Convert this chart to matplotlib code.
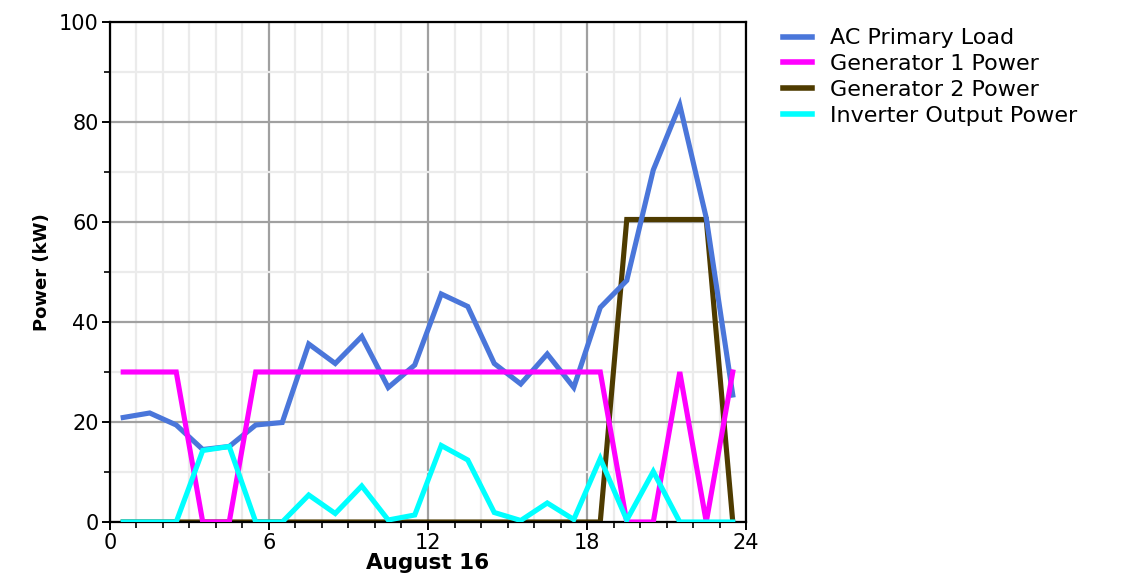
import numpy as np
import matplotlib
matplotlib.use("Agg")
import matplotlib.pyplot as plt
from matplotlib.ticker import MultipleLocator

# hourly values for August 16 (plotted at the middle of each hour)
hours = [0.5, 1.5, 2.5, 3.5, 4.5, 5.5, 6.5, 7.5, 8.5, 9.5, 10.5, 11.5,
         12.5, 13.5, 14.5, 15.5, 16.5, 17.5, 18.5, 19.5, 20.5, 21.5, 22.5, 23.5]
ac_load = [20.9, 21.8, 19.4, 14.5, 15.1, 19.4, 19.9, 35.6, 31.7, 37.1, 26.9, 31.4,
           45.6, 43.1, 31.7, 27.6, 33.6, 26.9, 42.9, 48.3, 70.4, 83.4, 60.8, 25.4]
gen1 = [30, 30, 30, 0, 0, 30, 30, 30, 30, 30, 30, 30,
        30, 30, 30, 30, 30, 30, 30, 0, 0, 30, 0, 30]
gen2 = [0, 0, 0, 0, 0, 0, 0, 0, 0, 0, 0, 0,
        0, 0, 0, 0, 0, 0, 0, 60.5, 60.5, 60.5, 60.5, 0]
inverter = [0, 0, 0, 14.3, 15.1, 0, 0, 5.4, 1.7, 7.2, 0.4, 1.4,
            15.3, 12.4, 1.9, 0.3, 3.8, 0.5, 12.7, 0.4, 10.1, 0, 0, 0]

names = ["AC Primary Load", "Generator 1 Power", "Generator 2 Power", "Inverter Output Power"]
colors = ["#4A76DA", "#FF00FF", "#4E3B00", "#00FFFF"]
z = [3, 4, 2, 5]

plt.rcParams["font.family"] = ["DejaVu Sans"]
fig = plt.figure(figsize=(11.21, 5.74), dpi=100)
ax = fig.add_axes([0.0981, 0.0906, 0.5674, 0.8711])

lines = []
for y, c, n, zz in zip([ac_load, gen1, gen2, inverter], colors, names, z):
    ln, = ax.plot(hours, y, color=c, lw=3.7, label=n, zorder=zz, solid_joinstyle="miter")
    lines.append(ln)

ax.set_xlim(0, 24)
ax.set_ylim(0, 100)
ax.xaxis.set_major_locator(MultipleLocator(6))
ax.xaxis.set_minor_locator(MultipleLocator(1))
ax.yaxis.set_major_locator(MultipleLocator(20))
ax.yaxis.set_minor_locator(MultipleLocator(10))
ax.grid(which="major", color="#A0A0A0", lw=1.6, zorder=0)
ax.grid(which="minor", color="#EBEBEB", lw=1.6, zorder=0)
ax.set_axisbelow(True)

for s in ax.spines.values():
    s.set_linewidth(1.6)
ax.tick_params(which="major", direction="out", length=6, width=1.4,
               labelsize=15, pad=2)
ax.tick_params(which="minor", direction="out", length=4, width=1.2)

ax.set_xlabel("August 16", fontsize=15.5, fontweight="bold", labelpad=0)
ax.set_ylabel("Power (kW)", fontsize=13, fontweight="bold", labelpad=6)

leg = fig.legend(handles=lines, loc="upper left", bbox_to_anchor=(0.691, 0.966),
                 frameon=False, fontsize=16, handlelength=1.3, handletextpad=0.8,
                 labelspacing=0.26, borderaxespad=0)
for h in leg.legend_handles:
    h.set_linewidth(4)

fig.savefig("out.png", dpi=100)
